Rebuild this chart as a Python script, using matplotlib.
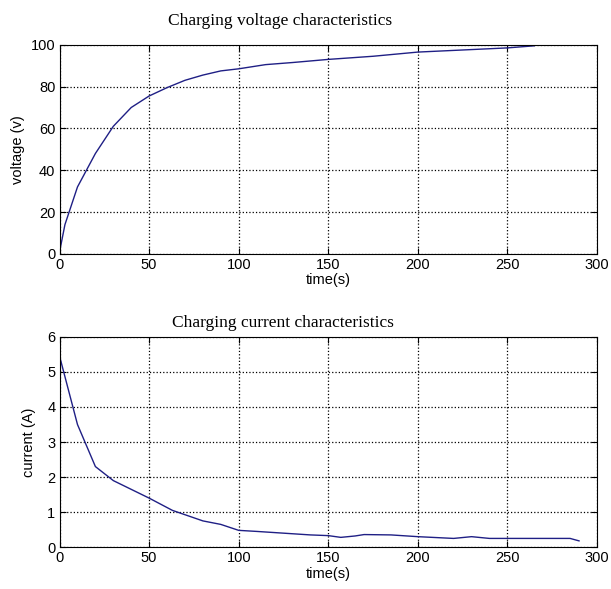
import matplotlib
matplotlib.use('Agg')
import matplotlib.pyplot as plt

# voltage curve
t_v = [0, 3, 10, 20, 30, 40, 50, 60, 70, 80, 90, 100, 115, 130, 150, 175, 200, 225, 250, 265]
voltage = [1, 14, 32, 48, 61, 70, 75.5, 79.5, 83, 85.5, 87.5, 88.5, 90.5, 91.5, 93, 94.5, 96.5, 97.5, 98.5, 99.5]

# current curve
t_i = [0, 10, 20, 30, 40, 50, 63, 80, 90, 100, 110, 125, 140, 150, 157, 165, 170, 185, 200, 220, 230, 240, 250, 285, 290]
current = [5.45, 3.5, 2.3, 1.9, 1.65, 1.4, 1.05, 0.75, 0.65, 0.48, 0.45, 0.4, 0.35, 0.33, 0.28, 0.32, 0.36, 0.35, 0.3, 0.25, 0.3, 0.25, 0.25, 0.25, 0.18]

plt.rcParams['font.family'] = ['Liberation Sans', 'DejaVu Sans']
line_col = '#1f1f85'

fig = plt.figure(figsize=(6.11, 5.89), dpi=100)
ax1 = fig.add_axes([0.0975, 0.569, 0.8795, 0.355])
ax2 = fig.add_axes([0.0975, 0.071, 0.8795, 0.357])

def style(ax):
    ax.grid(True, color='black', linestyle=':', linewidth=0.9)
    ax.tick_params(direction='in', labelsize=10.5, length=4, top=True, right=True, pad=3)
    for s in ax.spines.values():
        s.set_linewidth(0.8)
    ax.set_xlim(0, 300)
    ax.set_xticks(range(0, 301, 50))
    ax.set_xlabel('time(s)', fontsize=10.5, labelpad=1)

ax1.plot(t_v, voltage, color=line_col, linewidth=1)
ax1.set_ylim(0, 100)
ax1.set_yticks(range(0, 101, 20))
style(ax1)
ax1.set_ylabel('voltage (v)', fontsize=10.5, labelpad=4)
ax1.set_title('Charging voltage characteristics', family='Liberation Serif', fontsize=12.5,
              x=0.41, pad=14)

ax2.plot(t_i, current, color=line_col, linewidth=1)
ax2.set_ylim(0, 6)
ax2.set_yticks(range(0, 7))
style(ax2)
ax2.set_ylabel('current (A)', fontsize=10.5, labelpad=8)
ax2.set_title('Charging current characteristics', family='Liberation Serif', fontsize=12.5,
              x=0.415, pad=7)

fig.savefig('out.png', dpi=100)
